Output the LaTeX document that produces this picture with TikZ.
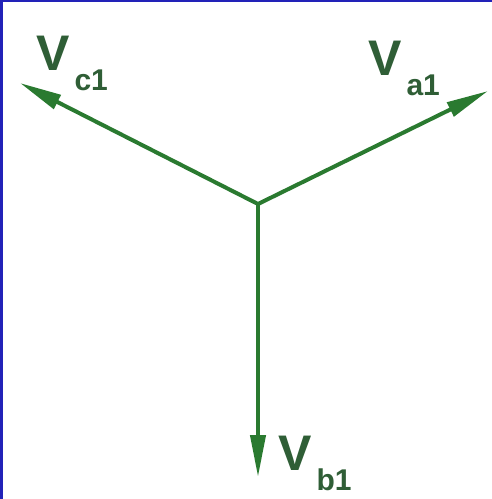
\documentclass[tikz,border=0pt]{standalone}
\usepackage{fontspec}
\setmainfont{Liberation Sans}
\usepackage{xcolor}
\usetikzlibrary{arrows.meta}
\definecolor{cPhase}{HTML}{2A7A30}
\definecolor{cLabel}{HTML}{2F5E36}
\definecolor{cFrame}{HTML}{2222B8}
\tikzset{
  phasor/.style={-{Triangle[length=42pt,width=15pt]}, line width=4pt, draw=cPhase},
  vlab/.style  ={inner sep=0pt, anchor=base west, text=cLabel,
                 font=\fontsize{50}{50}\selectfont\bfseries},
}
\newcommand{\vsub}[1]{\hspace{5pt}\raisebox{-20pt}{\fontsize{30}{30}\selectfont #1}}

\begin{document}
\begin{tikzpicture}[x=1pt, y=-1pt]
        \useasboundingbox (0,0) rectangle (492,499);
        \fill[white] (0,0) rectangle (492,499);
        \fill[cFrame] (0,0) rectangle (3,499);
        \fill[cFrame] (0,0) rectangle (492,2);
        % star point and phasor tips
        \coordinate (o) at (258,204);
        \coordinate (tc) at (20,83);
        \coordinate (ta) at (488,91);
        \coordinate (tb) at (258,477);
        \draw[phasor] (o) -- (tc);
        \draw[phasor] (o) -- (ta);
        \draw[phasor] (o) -- (tb);
        \node[vlab] (lc) at (36,70) {V\vsub{c1}};
        \node[vlab] (la) at (368,75) {V\vsub{a1}};
        \node[vlab] (lb) at (278,470) {V\vsub{b1}};
      \end{tikzpicture}
\end{document}
